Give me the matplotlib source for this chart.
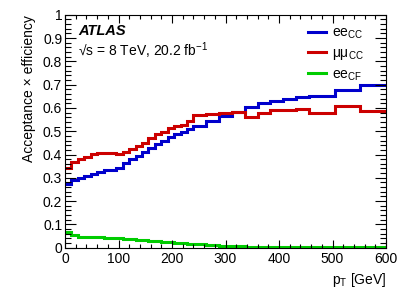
import matplotlib
matplotlib.use("Agg")
import matplotlib.pyplot as plt
from matplotlib.ticker import MultipleLocator
from matplotlib.lines import Line2D

plt.rcParams['font.family'] = ['Liberation Sans', 'DejaVu Sans']
plt.rcParams['mathtext.fontset'] = 'custom'
plt.rcParams['mathtext.rm'] = 'Liberation Sans'
plt.rcParams['mathtext.it'] = 'Liberation Sans:italic'
plt.rcParams['mathtext.bf'] = 'Liberation Sans:bold'

# bin edges in GeV
edges = [0, 12, 24, 36, 48, 60, 72, 84, 96, 108, 120, 132, 144, 156, 168, 180,
         192, 204, 216, 228, 240, 264, 288, 312, 336, 360, 384, 408, 432, 456,
         504, 552, 600]

ee_cc = [0.272, 0.291, 0.298, 0.308, 0.317, 0.327, 0.334, 0.334, 0.344, 0.362,
         0.379, 0.394, 0.412, 0.427, 0.444, 0.458, 0.474, 0.488, 0.498, 0.509,
         0.524, 0.544, 0.565, 0.584, 0.605, 0.620, 0.630, 0.637, 0.646, 0.653,
         0.677, 0.699]

mumu_cc = [0.343, 0.369, 0.379, 0.388, 0.401, 0.405, 0.405, 0.405, 0.404, 0.409,
           0.422, 0.436, 0.451, 0.470, 0.488, 0.498, 0.515, 0.522, 0.527, 0.544,
           0.569, 0.573, 0.576, 0.582, 0.563, 0.579, 0.591, 0.592, 0.594, 0.577,
           0.610, 0.588]

ee_cf = [0.066, 0.055, 0.048, 0.046, 0.045, 0.044, 0.043, 0.041, 0.040, 0.038,
         0.036, 0.034, 0.032, 0.030, 0.028, 0.026, 0.024, 0.022, 0.019, 0.017,
         0.014, 0.011, 0.008, 0.006, 0.005, 0.004, 0.003, 0.003, 0.002, 0.002,
         0.002, 0.002]

labels = ['ee$_{\\rm CC}$', 'μμ$_{\\rm CC}$', 'ee$_{\\rm CF}$']
colors = ['#0000cc', '#cc0000', '#00cc00']

fig = plt.figure(figsize=(4.07, 2.95), dpi=100)
ax = fig.add_axes([65/407, (295-247.7)/295, 321/407, 233/295])

for vals, c in zip([ee_cc, mumu_cc, ee_cf], colors):
    ax.stairs(vals, edges, color=c, linewidth=2.2, baseline=None)

ax.set_xlim(0, 600)
ax.set_ylim(0, 1)
ax.xaxis.set_major_locator(MultipleLocator(100))
ax.xaxis.set_minor_locator(MultipleLocator(20))
ax.yaxis.set_major_locator(MultipleLocator(0.1))
ax.yaxis.set_minor_locator(MultipleLocator(0.02))
ax.tick_params(which='both', direction='in', top=True, right=True, labelsize=10,
               width=0.8, colors='black')
ax.tick_params(axis='x', which='major', length=6, pad=3)
ax.tick_params(axis='x', which='minor', length=3)
ax.tick_params(axis='y', which='major', length=8, pad=2)
ax.tick_params(axis='y', which='minor', length=4)
ax.set_yticks([0, 0.1, 0.2, 0.3, 0.4, 0.5, 0.6, 0.7, 0.8, 0.9, 1.0])
ax.set_yticklabels(['0', '0.1', '0.2', '0.3', '0.4', '0.5', '0.6', '0.7', '0.8', '0.9', '1'])
for s in ax.spines.values():
    s.set_linewidth(0.8)

ax.set_xlabel('p$_{\\rm T}$ [GeV]', fontsize=10, loc='right', labelpad=4)
ax.set_ylabel('Acceptance × efficiency', fontsize=10, loc='top', labelpad=5)

ax.text(0.04, 0.93, 'ATLAS', transform=ax.transAxes, fontsize=10.5,
        fontweight='bold', fontstyle='italic', va='center', ha='left')
ax.text(0.04, 0.845, '√s = 8 TeV, 20.2 fb$^{-1}$', transform=ax.transAxes,
        fontsize=10, va='center', ha='left')

handles = [Line2D([], [], color=c, linewidth=2.2) for c in colors]
ax.legend(handles, labels, loc='upper left', bbox_to_anchor=(0.74, 0.975),
          frameon=False, fontsize=10, handlelength=1.3, handletextpad=0.4,
          labelspacing=0.35, borderaxespad=0)

fig.savefig('out.png', dpi=100)
